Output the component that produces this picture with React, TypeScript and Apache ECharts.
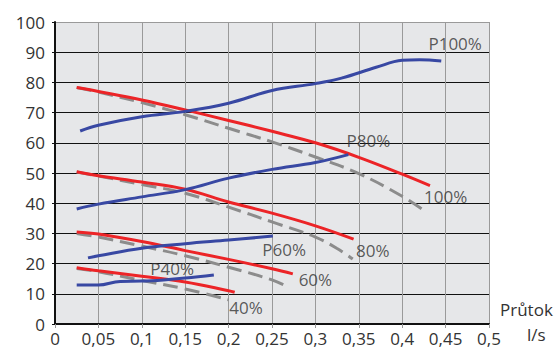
import React, { useEffect, useRef } from "react";
import * as echarts from "echarts";

// Flow (l/s) vs pressure curves
const red100: [number, number][] = [[0.025, 78.3], [0.05, 77.0], [0.1, 74.2], [0.15, 70.9], [0.2, 67.4], [0.25, 63.8], [0.3, 60.0], [0.35, 55.2], [0.4, 49.6], [0.432, 45.8]];
const gray100: [number, number][] = [[0.025, 78.3], [0.05, 76.8], [0.1, 73.3], [0.15, 69.3], [0.2, 64.8], [0.25, 60.3], [0.3, 55.3], [0.35, 49.8], [0.4, 42.3], [0.426, 37.4]];
const blue100: [number, number][] = [[0.029, 63.9], [0.05, 65.8], [0.1, 68.6], [0.15, 70.4], [0.2, 73.1], [0.25, 77.3], [0.3, 79.6], [0.33, 81.4], [0.37, 85.0], [0.4, 87.3], [0.42, 87.5], [0.445, 87.1]];

const red80: [number, number][] = [[0.025, 50.4], [0.05, 49.1], [0.1, 47.0], [0.15, 44.6], [0.2, 40.4], [0.25, 36.7], [0.3, 32.5], [0.344, 28.1]];
const gray80: [number, number][] = [[0.025, 50.3], [0.05, 49.0], [0.1, 46.2], [0.15, 43.3], [0.2, 38.7], [0.25, 33.8], [0.3, 28.8], [0.325, 25.0], [0.343, 21.5]];
const blue80: [number, number][] = [[0.025, 38.1], [0.05, 39.7], [0.1, 42.1], [0.15, 44.5], [0.2, 48.3], [0.25, 51.2], [0.3, 53.5], [0.338, 56.1]];

const red60: [number, number][] = [[0.025, 30.5], [0.05, 29.8], [0.1, 27.3], [0.15, 24.3], [0.2, 21.4], [0.25, 18.3], [0.274, 16.6]];
const gray60: [number, number][] = [[0.025, 30.0], [0.05, 28.8], [0.1, 25.8], [0.15, 22.6], [0.2, 18.8], [0.25, 14.6], [0.268, 12.3]];
const blue60: [number, number][] = [[0.038, 21.9], [0.05, 22.6], [0.1, 25.1], [0.15, 26.6], [0.2, 27.8], [0.251, 29.1]];

const red40: [number, number][] = [[0.025, 18.6], [0.05, 17.6], [0.1, 15.8], [0.15, 13.9], [0.2, 11.0], [0.207, 10.5]];
const gray40: [number, number][] = [[0.025, 18.4], [0.05, 17.3], [0.1, 14.4], [0.15, 11.6], [0.2, 8.0]];
const blue40: [number, number][] = [[0.025, 12.9], [0.05, 12.9], [0.075, 14.1], [0.1, 14.2], [0.125, 14.6], [0.15, 15.2], [0.183, 16.2]];

const curveLabels: { name: string; value: [number, number] }[] = [
  { name: "P100%", value: [0.461, 93.0] },
  { name: "P80%", value: [0.361, 60.9] },
  { name: "P60%", value: [0.264, 24.8] },
  { name: "P40%", value: [0.135, 18.5] },
  { name: "100%", value: [0.45, 42.1] },
  { name: "80%", value: [0.366, 24.2] },
  { name: "60%", value: [0.3, 14.6] },
  { name: "40%", value: [0.22, 5.6] },
];

const yTickColors = ["#111", "#111", "#111", "#111", "#111", "#111", "#111", "#111", "#111", "#111", "#9a9a9a"];

const RED = "#ec2427";
const BLUE = "#3848a3";
const GRAY = "#8c8c8c";
const FONT = "Open Sans";
const TXT = "#333";
const FS = 17;

export default function App() {
  const ref = useRef<HTMLDivElement>(null);
  useEffect(() => {
    if (!ref.current) return;
    const chart = echarts.init(ref.current, undefined, { renderer: "svg" });
    const line = (data: [number, number][], color: string, dashed = false) => ({
      type: "line",
      data,
      smooth: 0.4,
      showSymbol: false,
      symbol: "none",
      lineStyle: { color, width: 3, type: dashed ? [15, 7] : "solid" },
      z: dashed ? 2 : 3,
    });
    chart.setOption({
      animation: false,
      backgroundColor: "#fff",
      grid: { left: 55, right: 67, top: 22, bottom: 25, show: true, backgroundColor: "#e6e7e9", borderWidth: 0 },
      xAxis: {
        type: "value",
        min: 0,
        max: 0.5,
        interval: 0.05,
        axisLine: { show: true, onZero: false, lineStyle: { color: "#111", width: 2 } },
        axisTick: { show: true, length: 4, lineStyle: { color: "#9a9a9a" } },
        axisLabel: {
          color: TXT,
          fontFamily: FONT,
          fontSize: FS,
          margin: 6,
          formatter: (v: number) => String(parseFloat(v.toFixed(2))).replace(".", ","),
        },
        splitLine: { show: true, lineStyle: { color: "#9a9a9a", width: 1 } },
      },
      yAxis: {
        type: "value",
        min: 0,
        max: 100,
        interval: 10,
        axisLine: { show: true, onZero: false, lineStyle: { color: "#111", width: 2 } },
        axisTick: { show: true, length: 3, lineStyle: { color: "#111" } },
        axisLabel: { color: TXT, fontFamily: FONT, fontSize: FS, margin: 10 },
        splitLine: { show: true, lineStyle: { color: yTickColors, width: 1 } },
      },
      series: [
        line(gray100, GRAY, true),
        line(gray80, GRAY, true),
        line(gray60, GRAY, true),
        line(gray40, GRAY, true),
        line(red100, RED),
        line(red80, RED),
        line(red60, RED),
        line(red40, RED),
        line(blue100, BLUE),
        line(blue80, BLUE),
        line(blue60, BLUE),
        line(blue40, BLUE),
        {
          type: "scatter",
          data: curveLabels,
          symbolSize: 0,
          z: 5,
          label: {
            show: true,
            position: "inside",
            formatter: (p: any) => p.name,
            color: TXT,
            fontFamily: FONT,
            fontSize: FS,
          },
        },
      ],
      graphic: [
        { type: "text", left: 500, top: 301, style: { text: "Průtok", fill: TXT, font: `${FS}px "${FONT}"` } },
        { type: "text", left: 527, top: 326, style: { text: "l/s", fill: TXT, font: `${FS}px "${FONT}"` } },
      ],
    });
    return () => chart.dispose();
  }, []);
  return <div ref={ref} style={{ width: 556, height: 349, position: "absolute", left: 0, top: 0 }} />;
}
